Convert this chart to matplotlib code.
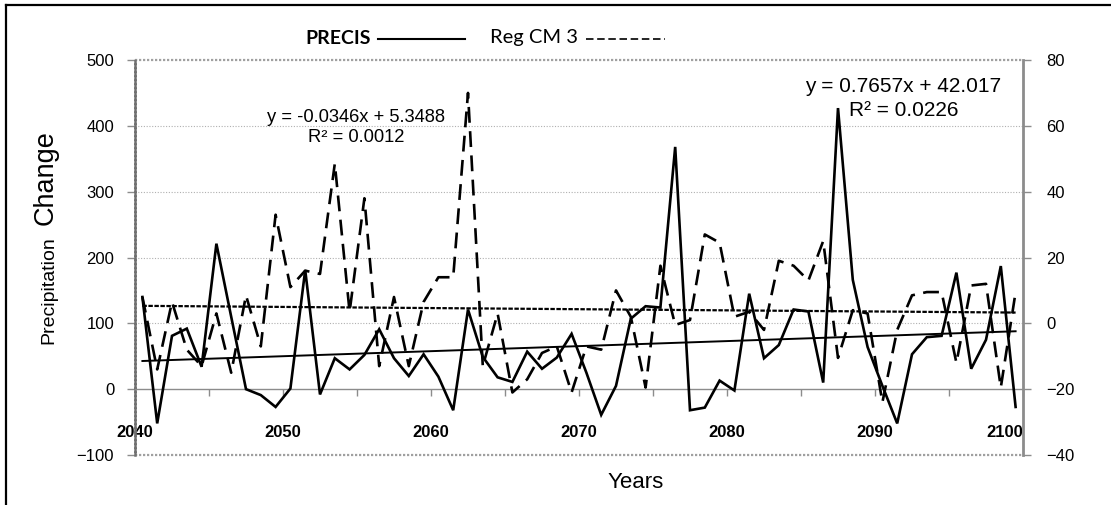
import matplotlib
matplotlib.use('Agg')
import matplotlib.pyplot as plt
from matplotlib.lines import Line2D
from matplotlib.ticker import FixedLocator, FuncFormatter
import numpy as np

# ---------------- data ----------------
years = list(range(2041, 2101))  # 60 years

precis = [140, -52, 81, 92, 34, 221, 110, 0, -9, -27,
          1, 181, -8, 47, 30, 52, 91, 47, 20, 53,
          19, -32, 121, 49, 18, 11, 57, 31, 48, 84,
          25, -39, 5, 107, 126, 124, 368, -32, -28, 13,
          -2, 145, 47, 67, 121, 118, 10, 427, 166, 64,
          5, -52, 53, 79, 81, 177, 31, 75, 187, -27]

regcm3 = [8, -14, 6.5, -8, -13, 3, -15, 8.5, -7, 33,
          11, 16, 15, 48.5, 3.5, 38, -13, 8, -13, 6.5,
          14, 14, 70, -13, 3, -21, -17, -9, -7, -21,
          -7, -8, 10, 2, -19.5, 17.5, -0.5, 1, 27, 24.5,
          2, 3.5, -2, 19, 17.5, 13, 25, -10.5, 4, 3,
          -24, -2, 8.5, 9.5, 9.5, -12, 11.5, 12, -19.5, 9.5]

precis_slope, precis_intercept = 0.7657, 42.017
regcm_slope, regcm_intercept = -0.0346, 5.3488

precis_eq = ["y = 0.7657x + 42.017", "R\u00b2 = 0.0226"]
regcm_eq = ["y = -0.0346x + 5.3488", "R\u00b2 = 0.0012"]

x_ticks = list(range(2040, 2101, 5))
left_ticks = [-100, 0, 100, 200, 300, 400, 500]
right_ticks = [-40, -20, 0, 20, 40, 60, 80]

# ---------------- figure ----------------
W, H = 1111, 505
fig = plt.figure(figsize=(W / 100, H / 100), dpi=100)
L, R, T, B = 135, 1023, 60, 455
ax = fig.add_axes([L / W, 1 - B / H, (R - L) / W, (B - T) / H])
ax2 = ax.twinx()

x = np.array(years) - 0.5
idx = np.arange(1, len(years) + 1)

font = 'Liberation Sans'
gray = '#8c8c8c'

# series
ax.plot(x, precis, color='black', lw=1.9, solid_joinstyle='miter', zorder=5)
ax.plot(x, precis_slope * idx + precis_intercept, color='black', lw=1.4, zorder=4)
l2, = ax2.plot(x, regcm3, color='black', lw=1.9, zorder=5)
l2.set_dashes((6, 3.2))
t2, = ax2.plot(x, regcm_slope * idx + regcm_intercept, color='black', lw=1.6, zorder=4)
t2.set_dashes((2, 0.7))

# axes ranges
ax.set_xlim(2040, 2100)
ax.set_ylim(-100, 500)
ax2.set_ylim(-40, 80)

# grid lines
for v in [100, 200, 300, 400]:
    ax.axhline(v, color='#b0b0b0', lw=0.8, ls=(0, (1, 1.5)), zorder=1)
ax.axhline(500, color='#a0a0a0', lw=1.6, ls=(0, (1, 0.8)), zorder=1, clip_on=False)
ax.axhline(-100, color='#a0a0a0', lw=1.6, ls=(0, (1, 0.8)), zorder=1, clip_on=False)

# spines
for a in (ax, ax2):
    a.spines['top'].set_visible(False)
ax2.spines['bottom'].set_visible(False)
ax2.spines['left'].set_visible(False)
ax.spines['right'].set_visible(False)
ax.spines['bottom'].set_position(('data', 0))
ax.spines['bottom'].set_color(gray)
ax.spines['bottom'].set_linewidth(1.0)
ax.spines['left'].set_color('#707070')
ax.spines['left'].set_linewidth(1.8)
ax.spines['left'].set_linestyle((0, (1, 0.6)))
ax2.spines['right'].set_color(gray)
ax2.spines['right'].set_linewidth(2.0)

# x ticks
ax.xaxis.set_major_locator(FixedLocator(x_ticks))
ax.xaxis.set_major_formatter(FuncFormatter(lambda v, p: f"{int(round(v))}" if int(round(v)) % 10 == 0 else ""))
ax.tick_params(axis='x', direction='out', length=5, width=1, color=gray, pad=21)
for lab in ax.get_xticklabels():
    lab.set_fontfamily(font)
    lab.set_fontweight('bold')
    lab.set_fontsize(12)
fig.canvas.draw()
ax.get_xticklabels()[-1].set_horizontalalignment('right')

# y ticks
ax.set_yticks(left_ticks)
ax.tick_params(axis='y', direction='out', length=6, width=1, color=gray, pad=9, labelsize=12)
ax2.set_yticks(right_ticks)
ax2.tick_params(axis='y', direction='out', length=6, width=1, color=gray, pad=11, labelsize=12)
for lab in ax.get_yticklabels() + ax2.get_yticklabels():
    lab.set_fontfamily(font)

# axis labels
fig.text(53 / W, 1 - 178 / H, "Change", rotation=90, rotation_mode='anchor',
         ha='center', va='baseline', fontsize=19.5, family=font)
fig.text(53 / W, 1 - 290 / H, "Precipitation", rotation=90, rotation_mode='anchor',
         ha='center', va='baseline', fontsize=14, family=font)
fig.text(636 / W, 1 - 483 / H, "Years", ha='center', va='center', fontsize=16, family=font)

# equations
fig.text(356 / W, 1 - 118 / H, regcm_eq[0], ha='center', va='center', fontsize=13.2, family=font)
fig.text(356 / W, 1 - 138 / H, regcm_eq[1], ha='center', va='center', fontsize=13.2, family=font)
fig.text(903 / W, 1 - 87 / H, precis_eq[0], ha='center', va='center', fontsize=15, family=font)
fig.text(904 / W, 1 - 111 / H, precis_eq[1], ha='center', va='center', fontsize=15, family=font)

# legend-like header
fig.text(305 / W, 1 - 38 / H, "PRECIS", ha='left', va='center', fontsize=14, fontweight='bold', family='Lato')
fig.add_artist(Line2D([378 / W, 465 / W], [1 - 39 / H, 1 - 39 / H], color='black', lw=1.5,
                      transform=fig.transFigure))
fig.text(490 / W, 1 - 38 / H, "Reg CM 3", ha='left', va='center', fontsize=14.5, family='Lato')
dl = Line2D([586 / W, 665 / W], [1 - 39 / H, 1 - 39 / H], color='black', lw=1.2,
            transform=fig.transFigure)
dl.set_dashes((4.5, 2.2))
fig.add_artist(dl)

# outer frame (left & top)
fig.add_artist(Line2D([6 / W, 6 / W], [0, 1 - 5 / H], color='black', lw=1.6, transform=fig.transFigure))
fig.add_artist(Line2D([6 / W, 1], [1 - 5 / H, 1 - 5 / H], color='black', lw=1.6, transform=fig.transFigure))

fig.savefig('out.png', dpi=100)
